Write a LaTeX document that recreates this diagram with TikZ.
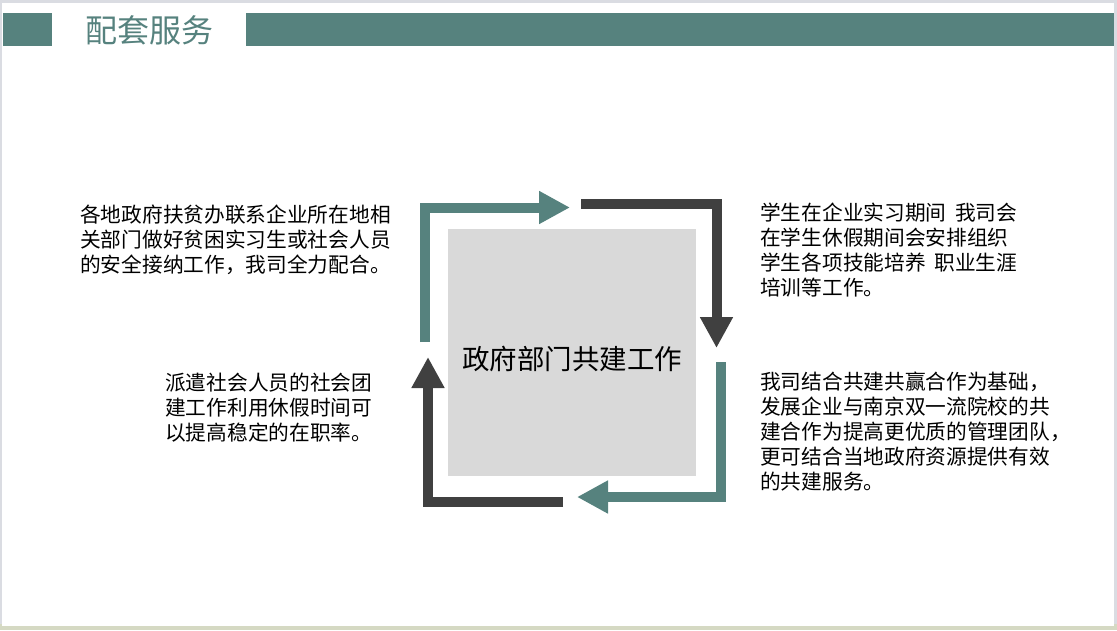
\documentclass[tikz,border=0pt]{standalone}
\usepackage{fontspec}
\setmainfont{Noto Sans CJK SC}
\usetikzlibrary{arrows.meta}
\definecolor{teal1}{HTML}{56827E}
\definecolor{dark1}{HTML}{404040}
\definecolor{boxgray}{HTML}{D9D9D9}
\definecolor{framegray}{HTML}{DADCE2}
\definecolor{shadowgreen}{HTML}{D5D9C3}
\newcommand{\wsp}{\hspace{0.42em}}
\tikzset{
  bar/.style={fill=teal1, draw=none},
  loopline/.style={line width=10pt, line join=miter, line cap=butt,
    -{Triangle[length=31pt,width=31pt]}},
  body/.style={anchor=west, align=left, inner sep=0pt, text=black,
    font=\fontsize{20.7}{25}\selectfont},
}
\begin{document}
\begin{tikzpicture}[x=1pt,y=-1pt]
\useasboundingbox (0,0) rectangle (1117,630);
% page frame
\fill[framegray] (0,0) rectangle (1117,630);
\fill[shadowgreen] (0,624) rectangle (1117,630);
\fill[white] (1.5,3) rectangle (1113.5,625.5);
% title bars
\fill[bar] (3,13) rectangle (52,46);
\fill[bar] (246,13) rectangle (1114,46);
\node[inner sep=0pt, text=teal1, font=\fontsize{32}{36}\selectfont] (title) at (149,30) {配套服务};
% central box
\node[fill=boxgray, minimum width=248pt, minimum height=247pt, inner sep=0pt] (core) at (572,352.5) {};
\node[inner sep=0pt, font=\fontsize{27.5}{30}\selectfont] (coretext) at (572,359) {政府部门共建工作};
% loop coordinates
\coordinate (a1) at (425,342);
\coordinate (a2) at (425,207.5);
\coordinate (a3) at (570,207.5);
\coordinate (b1) at (581,203.5);
\coordinate (b2) at (716.5,203.5);
\coordinate (b3) at (716.5,348);
\coordinate (c1) at (721,362);
\coordinate (c2) at (721,497);
\coordinate (c3) at (577,497);
\coordinate (d1) at (563,502);
\coordinate (d2) at (428,502);
\coordinate (d3) at (428,357);
\draw[loopline, teal1] (a1) -- (a2) -- (a3);
\draw[loopline, dark1] (b1) -- (b2) -- (b3);
\draw[loopline, teal1] (c1) -- (c2) -- (c3);
\draw[loopline, dark1] (d1) -- (d2) -- (d3);
% texts
\node[body] (tl) at (80,239.5) {各地政府扶贫办联系企业所在地相\\关部门做好贫困实习生或社会人员\\的安全接纳工作，我司全力配合。};
\node[body] (bl) at (165,408) {派遣社会人员的社会团\\建工作利用休假时间可\\以提高稳定的在职率。};
\node[body] (tr) at (760,250) {学生在企业实习期间\wsp 我司会\\在学生休假期间会安排组织\\学生各项技能培养\wsp 职业生涯\\培训等工作。};
\node[body] (br) at (760,432) {我司结合共建共赢合作为基础，\\发展企业与南京双一流院校的共\\建合作为提高更优质的管理团队，\\更可结合当地政府资源提供有效\\的共建服务。};
\end{tikzpicture}
\end{document}
